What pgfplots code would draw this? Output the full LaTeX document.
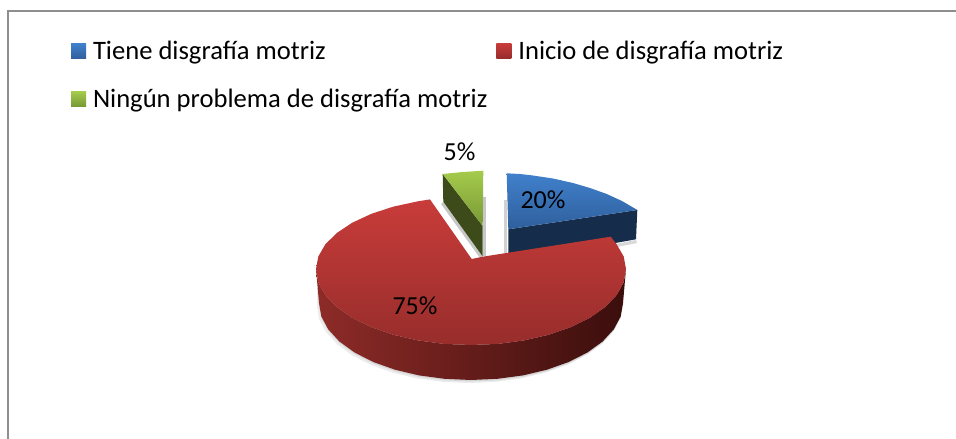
\documentclass[border=0pt]{standalone}
\usepackage{fontspec}
\setmainfont{Carlito}
\usepackage{pgfplots}
\usepackage{pgfplotstable}
\pgfplotsset{compat=1.18}
\definecolor{frameg}{HTML}{8E8E8E}
\definecolor{blueT}{HTML}{4080CC}
\definecolor{blueB}{HTML}{2F5F9C}
\definecolor{blueS}{HTML}{152D4B}
\definecolor{redT}{HTML}{C83C3A}
\definecolor{redB}{HTML}{972D2B}
\definecolor{redL}{HTML}{8E2B28}
\definecolor{redM}{HTML}{621A17}
\definecolor{redR}{HTML}{3A0E0C}
\definecolor{greenT}{HTML}{A5CB4C}
\definecolor{greenB}{HTML}{789835}
\definecolor{greenS}{HTML}{3D4B1B}
\pgfplotstableread{
x y
319 303
321.3 316.4
328.2 329.3
339.4 341.5
354.6 352.5
373.3 362
395 369.7
419 375.4
444.6 378.8
471 380
497.4 378.8
523 375.4
547 369.7
568.7 362
587.4 352.5
602.6 341.5
613.8 329.3
620.7 316.4
623 303
623 285
319 285
}\discshadow
\begin{document}
\begin{tikzpicture}
\begin{axis}[
  scale only axis, width=956pt, height=439pt,
  xmin=0, xmax=956, ymin=0, ymax=439, y dir=reverse,
  hide axis, clip=true,
  legend columns=2,
  legend cell align=left,
  legend style={draw=none, fill=none, at={(axis cs:71,38)}, anchor=north west,
    inner sep=0pt, outer sep=0pt,
    font=\fontsize{26.6}{30}\selectfont,
    /tikz/every even column/.append style={column sep=9pt},
    nodes={inner xsep=0pt, inner ysep=0pt, minimum height=26pt},
    row sep=22pt},
  legend image code/.code={\path[#1] (0pt,-7.5pt) rectangle (15pt,7.5pt);\path (0pt,0pt) -- (22pt,0pt);},
]
% background and frame
\addplot[forget plot, draw=none, fill=white] coordinates {(0,0)(956,0)(956,439)(0,439)} --cycle;
\addplot[forget plot, frameg, line width=2pt, mark=none, sharp plot] coordinates {(8,439)(8,11)(956,11)};

% soft shadows
\addplot[forget plot, draw=none, fill=black!8, xshift=-2pt, yshift=-3pt] table {\discshadow} --cycle;
\addplot[forget plot, draw=none, fill=black!16, yshift=-1.5pt] table {\discshadow} --cycle;
\addplot[forget plot, draw=none, fill=black!22] coordinates {(483,197)(486,197)(486,256)(483,256)} --cycle;
\addplot[forget plot, draw=none, fill=black!18] coordinates {(504,200)(507,200)(507,253)(504,253)} --cycle;
\addplot[forget plot, draw=none, fill=black!22] coordinates {(441,204)(443.3,201.7)(482.7,256.5)(480,258)} --cycle;
\addplot[forget plot, draw=none, fill=black!15] coordinates {(615,244)(636,240)(637,243)(617,247)} --cycle;

% blue slice (20%)
\addplot[forget plot, draw=none, fill=blueS] coordinates {(508.3,229.3)(637.3,210)(636,239.3)(508.3,262)} --cycle;
\addplot[draw=none, top color=blueT, bottom color=blueB] coordinates {
 (506.7,173.3)(520,174)(533,175.5)(553,178.5)(573,183)(590,188)(606.7,194)(622,201)(637.3,210)(508.3,229.3)} --cycle;
\addlegendentry{Tiene disgrafía motriz}

% red slice (75%)
\addplot[forget plot, draw=none, left color=redL, middle color=redM, right color=redR] coordinates {
 (316,269)(318.3,282.2)(325.3,295)(336.8,307)(352.3,317.9)(371.4,327.2)(393.5,334.8)(418,340.4)(444,343.9)(471,345)
 (498,343.9)(524,340.4)(548.5,334.8)(570.6,327.2)(589.7,317.9)(605.2,307)(616.7,295)(623.7,282.2)(626,269)
 (623,303)(620.7,316.4)(613.8,329.3)(602.6,341.5)(587.4,352.5)(568.7,362)(547,369.7)(523,375.4)(497.4,378.8)(471,380)
 (444.6,378.8)(419,375.4)(395,369.7)(373.3,362)(354.6,352.5)(339.4,341.5)(328.2,329.3)(321.3,316.4)(319,303)} --cycle;
\addplot[draw=none, top color=redT, bottom color=redB] coordinates {
 (430,199.4)(418,201.3)(393.5,206.6)(371.4,213.8)(352.3,222.7)(336.8,233)(325.3,244.4)(318.3,256.5)(316,269)
 (318.3,282.2)(325.3,295)(336.8,307)(352.3,317.9)(371.4,327.2)(393.5,334.8)(418,340.4)(444,343.9)(471,345)
 (498,343.9)(524,340.4)(548.5,334.8)(570.6,327.2)(589.7,317.9)(605.2,307)(616.7,295)(623.7,282.2)(626,269)
 (623.7,256.5)(616.7,244.4)(610.7,236.7)(482.7,256.7)(471.7,259)} --cycle;
\addlegendentry{Inicio de disgrafía motriz}

% green slice (5%)
\addplot[forget plot, draw=none, fill=greenS] coordinates {(442.7,174)(482.7,226)(482.7,256.5)(443.3,201.7)} --cycle;
\addplot[draw=none, top color=greenT, bottom color=greenB] coordinates {(442.7,174)(463,172)(483.3,170.7)(482.7,226)} --cycle;
\addlegendentry{Ningún problema de disgrafía motriz}

% data labels
\node[font=\fontsize{26}{30}\selectfont, text=black] at (axis cs:543,200) {20\%};
\node[font=\fontsize{26}{30}\selectfont, text=black] at (axis cs:459.5,152) {5\%};
\node[font=\fontsize{26}{30}\selectfont, text=black] at (axis cs:415,306) {75\%};
\end{axis}
\end{tikzpicture}
\end{document}
